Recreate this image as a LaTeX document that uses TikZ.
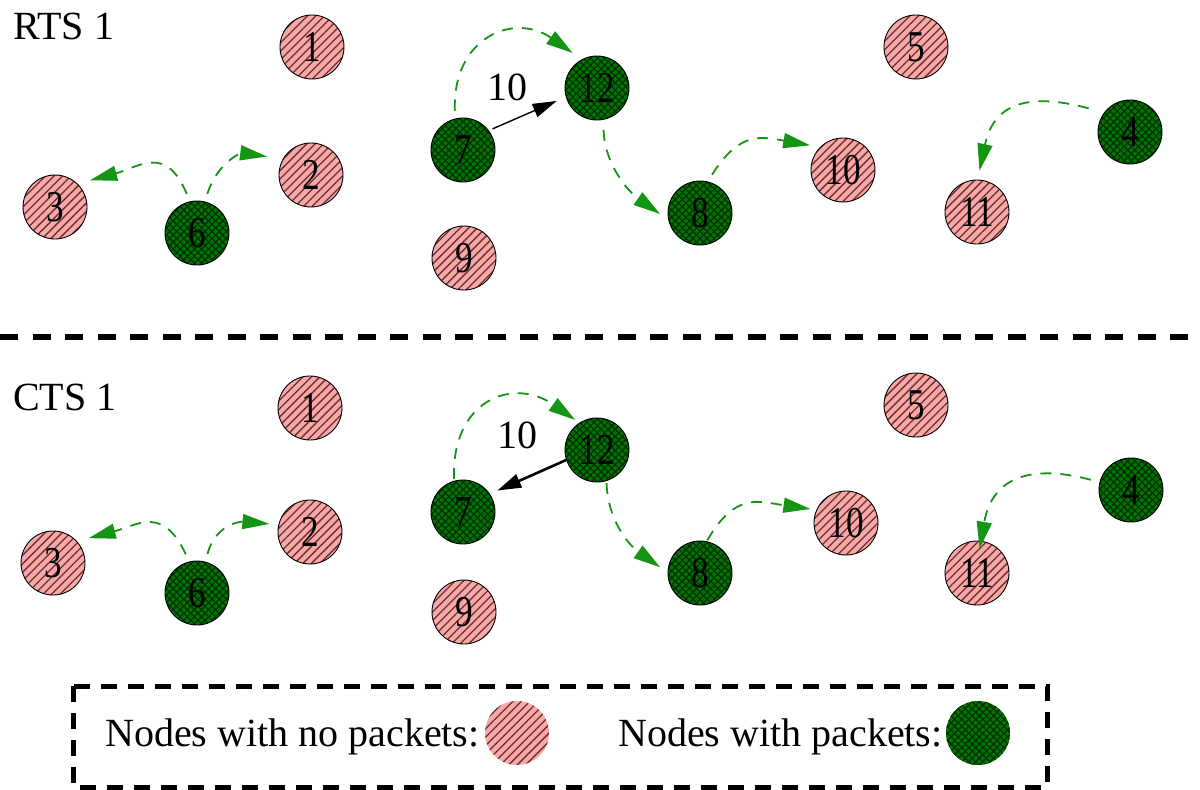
\documentclass[tikz,border=0pt]{standalone}
\usepackage{fontspec}
\setmainfont{Liberation Serif}
\newfontfamily\numfont[FakeStretch=0.8]{Liberation Serif}
\usetikzlibrary{patterns.meta,arrows.meta}
\definecolor{pinkfill}{RGB}{247,168,168}
\definecolor{pinkline}{RGB}{110,45,45}
\definecolor{greenfill}{RGB}{0,115,0}
\definecolor{greenline}{RGB}{0,45,0}
\definecolor{arrgreen}{RGB}{20,150,20}
\begin{document}
\begin{tikzpicture}[x=1pt,y=1pt,
  nopkt/.style={circle,draw=black,line width=0.9pt,minimum size=64pt,inner sep=0pt,
    preaction={fill=pinkfill},pattern={Lines[angle=45,distance=6pt,line width=1.3pt]},
    pattern color=pinkline,font=\numfont\fontsize{44}{44}\selectfont},
  pkt/.style={circle,draw=black,line width=0.9pt,minimum size=64pt,inner sep=0pt,
    preaction={fill=greenfill},pattern={Hatch[angle=45,distance=5pt,line width=1.1pt]},
    pattern color=greenline,font=\numfont\fontsize{44}{44}\selectfont},
  legnopkt/.style={nopkt,draw=none},
  legpkt/.style={pkt,draw=none},
  txt/.style={inner sep=0pt,font=\fontsize{40}{44}\selectfont},
  gflow/.style={draw=arrgreen,line width=1.8pt,dash pattern=on 11pt off 9pt,
    -{Triangle[length=27pt,width=15pt]}},
  bflow/.style={draw=black,line width=1.4pt,-{Triangle[length=24pt,width=14pt]}},
  sep/.style={line width=6pt,dash pattern=on 18pt off 14.5pt},
  legbox/.style={line width=5pt,dash pattern=on 16pt off 11pt}
]
\useasboundingbox (0,0) rectangle (1200,-790);

% ---------- RTS panel ----------
\node[txt,anchor=base west] (rts) at (13,-39) {RTS 1};
\node[nopkt] (a1) at (312,-47) {1};
\node[nopkt] (a2) at (311,-175) {2};
\node[nopkt] (a3) at (55,-207) {3};
\node[pkt] (a6) at (197,-233) {6};
\node[pkt] (a7) at (463,-150) {7};
\node[pkt] (a12) at (597,-88) {12};
\node[pkt] (a8) at (700,-213) {8};
\node[nopkt] (a10) at (843,-170) {10};
\node[nopkt] (a9) at (464,-258) {9};
\node[nopkt] (a5) at (916,-47) {5};
\node[pkt] (a4) at (1130,-132) {4};
\node[nopkt] (a11) at (977,-212) {11};
\node[txt] (al) at (507,-87) {10};

\draw[gflow,shorten <=8pt,shorten >=13pt] (a6.103) to[out=112,in=15,looseness=1.4] (a3.46);
\draw[gflow,shorten <=8pt,shorten >=16pt] (a6.76) to[out=72,in=172,looseness=1.2] (a2.150);
\draw[gflow,shorten <=8pt,shorten >=11pt] (a7.104) to[out=92,in=145,looseness=1.5] (a12.118);
\draw[gflow,shorten <=10pt,shorten >=10pt] (a12.-79) to[out=-88,in=145] (a8.192);
\draw[gflow,shorten <=8pt,shorten >=10pt] (a8.76) to[out=58,in=170,looseness=1.3] (a10.135);
\draw[gflow,shorten <=16pt,shorten >=9pt] (a4.143) to[out=165,in=78,looseness=1.4] (a11.89);
\draw[bflow,shorten <=4pt,shorten >=10pt] (a7.37) -- (a12.196);

% ---------- separator ----------
\coordinate (sl) at (0,-337);
\coordinate (sr) at (1200,-337);
\draw[sep] (sl) -- (sr);

% ---------- CTS panel ----------
\node[txt,anchor=base west] (cts) at (13,-410) {CTS 1};
\node[nopkt] (b1) at (310,-408) {1};
\node[nopkt] (b2) at (310,-532) {2};
\node[nopkt] (b3) at (53,-563) {3};
\node[pkt] (b6) at (197,-593) {6};
\node[pkt] (b7) at (463,-512) {7};
\node[pkt] (b12) at (597,-450) {12};
\node[pkt] (b8) at (700,-573) {8};
\node[nopkt] (b10) at (846,-523) {10};
\node[nopkt] (b9) at (464,-612) {9};
\node[nopkt] (b5) at (916,-405) {5};
\node[pkt] (b4) at (1131,-490) {4};
\node[nopkt] (b11) at (977,-573) {11};
\node[txt] (bl) at (517,-435) {10};

\draw[gflow,shorten <=8pt,shorten >=12pt] (b6.104) to[out=115,in=15,looseness=1.4] (b3.42);
\draw[gflow,shorten <=8pt,shorten >=9pt] (b6.75) to[out=75,in=175,looseness=1.2] (b2.167);
\draw[gflow,shorten <=2pt,shorten >=5pt] (b7.106) to[out=92,in=145,looseness=1.5] (b12.123);
\draw[gflow,shorten <=2pt,shorten >=9pt] (b12.-73) to[out=-88,in=145] (b8.179);
\draw[gflow,shorten <=1pt,shorten >=6pt] (b8.78) to[out=60,in=172,looseness=1.3] (b10.156);
\draw[gflow,shorten <=9pt,shorten >=-8pt] (b4.166) to[out=165,in=80,looseness=1.3] (b11.83);
\draw[bflow,line width=2.6pt,shorten <=0pt,shorten >=8pt] (b12.198) -- (b7.34);

% ---------- legend ----------
\coordinate (lg1) at (73,-686);
\coordinate (lg2) at (1047,-787);
\draw[legbox] (lg1) rectangle (lg2);
\node[txt,anchor=base west] (lt1) at (105,-746) {Nodes with no packets:};
\node[legnopkt] (lc1) at (517,-733) {};
\node[txt,anchor=base west] (lt2) at (618,-746) {Nodes with packets:};
\node[legpkt] (lc2) at (978,-733) {};
\end{tikzpicture}
\end{document}
